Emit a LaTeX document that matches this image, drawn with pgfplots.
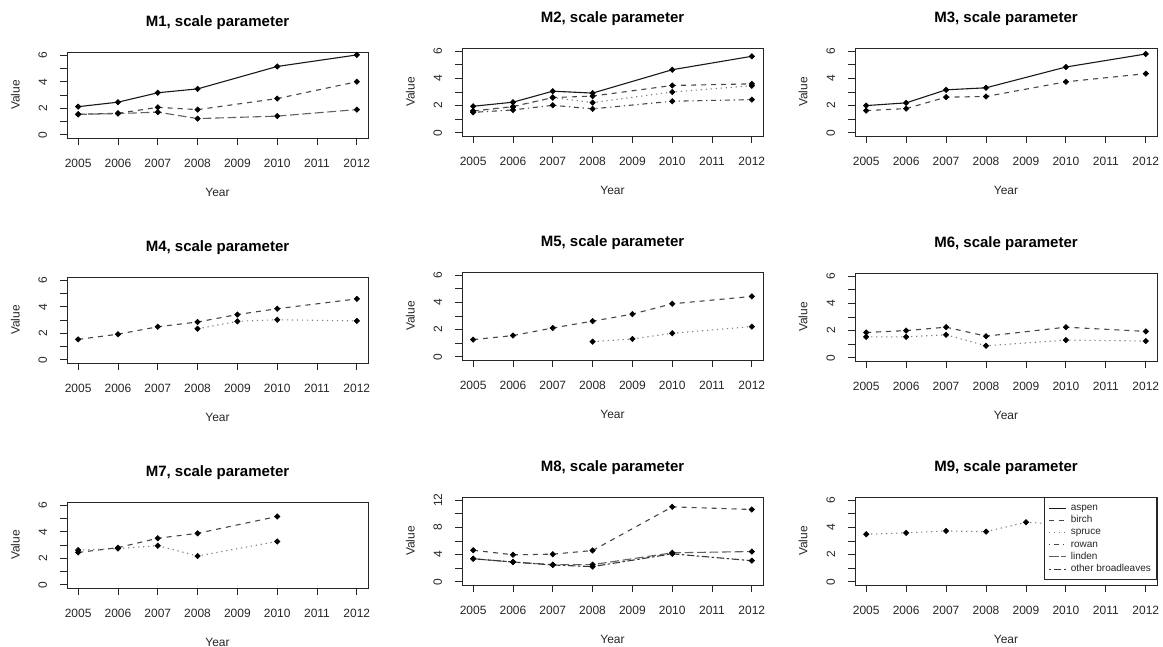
\documentclass[border=0pt]{standalone}
\usepackage{fontspec}
\setmainfont{Liberation Sans}
\usepackage{pgfplots}
\pgfplotsset{compat=1.18}
\tikzset{
 aspen/.style={black!90, solid},
 birch/.style={black!72, dash pattern=on 5pt off 5pt},
 spruce/.style={black!50, dash pattern=on 1.25pt off 3.75pt},
 rowan/.style={black!72, dash pattern=on 1.25pt off 3.75pt on 5pt off 3.75pt},
 linden/.style={black!62, dash pattern=on 8.75pt off 3.75pt},
 other/.style={black!78, dash pattern=on 2.5pt off 2.5pt on 7.5pt off 2.5pt},
}
\pgfplotsset{
 panel/.style={
  scale only axis, width=301pt, height=87pt,
  xmin=2004.72, xmax=2012.28, ymin=-0.24, ymax=6.24,
  xtick={2005,...,2012}, xticklabels={2005,2006,2007,2008,2009,2010,2011,2012},
  ytick={0,...,6}, yticklabels={0,,2,,4,,6},
  tick align=outside, major tick length=7pt, xtick pos=bottom, ytick pos=left,
  axis line style={black!85, line width=0.9pt},
  tick style={black!85, line width=0.9pt},
  ticklabel style={font=\fontsize{12}{14}\selectfont, inner sep=0pt, text=black!85},
  xticklabel style={anchor=north},
  yticklabel style={rotate=90, anchor=south},
  xticklabel shift=13.5pt, yticklabel shift=12.7pt,
  xlabel={Year}, ylabel={Value},
  xlabel style={at={(axis description cs:0.5,0)}, anchor=center, yshift=-54pt, font=\fontsize{12}{14}\selectfont, text=black!85},
  ylabel style={at={(axis description cs:-0.172,0.5)}, anchor=center, font=\fontsize{12}{14}\selectfont, text=black!85},
  title style={at={(axis description cs:0.5,1)}, anchor=center, yshift=23pt, font=\bfseries\fontsize{15}{18}\selectfont},
  every axis plot/.append style={line width=1.1pt, mark=square*, mark size=1.9pt, mark options={solid, rotate=45, fill=black, draw=black, line width=0.6pt}},
 },
}
\begin{document}
\begin{tikzpicture}
\useasboundingbox (0,0) rectangle (1163pt,-646pt);
% M1
\begin{axis}[panel, at={(67pt,-138pt)}, anchor=south west, height=86pt, title={M1, scale parameter}]
\addplot[aspen] coordinates {(2005,2.12)(2006,2.46)(2007,3.17)(2008,3.46)(2010,5.15)(2012,6.02)};
\addplot[birch] coordinates {(2005,1.55)(2006,1.62)(2007,2.07)(2008,1.9)(2010,2.73)(2012,4.0)};
\addplot[linden] coordinates {(2005,1.54)(2006,1.6)(2007,1.71)(2008,1.22)(2010,1.41)(2012,1.9)};
\end{axis}
% M2
\begin{axis}[panel, at={(462pt,-136pt)}, anchor=south west, height=88pt, title={M2, scale parameter}]
\addplot[aspen] coordinates {(2005,1.95)(2006,2.25)(2007,3.06)(2008,2.92)(2010,4.64)(2012,5.63)};
\addplot[birch] coordinates {(2005,1.6)(2006,1.93)(2007,2.59)(2008,2.7)(2010,3.48)(2012,3.6)};
\addplot[spruce] coordinates {(2005,1.6)(2006,1.9)(2007,2.59)(2008,2.22)(2010,3.0)(2012,3.46)};
\addplot[rowan] coordinates {(2005,1.5)(2006,1.68)(2007,2.02)(2008,1.76)(2010,2.32)(2012,2.44)};
\end{axis}
% M3
\begin{axis}[panel, at={(855pt,-136pt)}, anchor=south west, width=302pt, height=88pt, title={M3, scale parameter}]
\addplot[aspen] coordinates {(2005,2.0)(2006,2.2)(2007,3.16)(2008,3.31)(2010,4.84)(2012,5.8)};
\addplot[birch] coordinates {(2005,1.63)(2006,1.78)(2007,2.62)(2008,2.67)(2010,3.75)(2012,4.35)};
\end{axis}
% M4
\begin{axis}[panel, at={(67pt,-363pt)}, anchor=south west, height=86pt, title={M4, scale parameter}]
\addplot[birch] coordinates {(2005,1.54)(2006,1.93)(2007,2.49)(2008,2.85)(2009,3.41)(2010,3.85)(2012,4.59)};
\addplot[spruce] coordinates {(2008,2.34)(2009,2.9)(2010,3.02)(2012,2.93)};
\end{axis}
% M5
\begin{axis}[panel, at={(462pt,-360pt)}, anchor=south west, height=88pt, title={M5, scale parameter}]
\addplot[birch] coordinates {(2005,1.26)(2006,1.56)(2007,2.12)(2008,2.62)(2009,3.14)(2010,3.9)(2012,4.44)};
\addplot[spruce] coordinates {(2008,1.11)(2009,1.31)(2010,1.73)(2012,2.22)};
\end{axis}
% M6
\begin{axis}[panel, at={(855pt,-361pt)}, anchor=south west, width=302pt, height=88pt, title={M6, scale parameter}]
\addplot[birch] coordinates {(2005,1.86)(2006,2.0)(2007,2.25)(2008,1.59)(2010,2.25)(2012,1.94)};
\addplot[spruce] coordinates {(2005,1.54)(2006,1.54)(2007,1.69)(2008,0.88)(2010,1.3)(2012,1.23)};
\end{axis}
% M7
\begin{axis}[panel, at={(67pt,-588pt)}, anchor=south west, height=86pt, title={M7, scale parameter}]
\addplot[birch] coordinates {(2005,2.44)(2006,2.8)(2007,3.51)(2008,3.88)(2010,5.15)};
\addplot[spruce] coordinates {(2005,2.62)(2006,2.73)(2007,2.95)(2008,2.17)(2010,3.27)};
\end{axis}
% M8
\begin{axis}[panel, at={(462pt,-585pt)}, anchor=south west, height=88pt, title={M8, scale parameter},
  ymin=-0.48, ymax=12.48, ytick={0,2,...,12}, yticklabels={0,,4,,8,,12}]
\addplot[birch] coordinates {(2005,4.64)(2006,3.97)(2007,4.06)(2008,4.6)(2010,11.03)(2012,10.64)};
\addplot[linden] coordinates {(2005,3.39)(2006,2.9)(2007,2.52)(2008,2.52)(2010,4.26)(2012,4.45)};
\addplot[other] coordinates {(2005,3.39)(2006,2.9)(2007,2.47)(2008,2.23)(2010,4.11)(2012,3.1)};
\end{axis}
% M9
\begin{axis}[panel, at={(855pt,-585pt)}, anchor=south west, width=302pt, height=88pt, title={M9, scale parameter},
  legend style={at={(1,1)}, anchor=north east, draw=black!85, line width=0.9pt, fill=white,
    font=\fontsize{10}{11}\selectfont, text=black!85, row sep=0pt, column sep=2.5pt, inner xsep=4pt, inner ysep=4.5pt,
    nodes={text height=6.8pt, text depth=2pt, inner sep=1.7pt}},
  legend cell align=left]
\addlegendimage{aspen, line width=1.1pt, no marks}
\addlegendentry{aspen}
\addlegendimage{birch, line width=1.1pt, no marks}
\addlegendentry{birch}
\addlegendimage{spruce, line width=1.1pt, no marks}
\addlegendentry{spruce}
\addlegendimage{rowan, line width=1.1pt, no marks}
\addlegendentry{rowan}
\addlegendimage{linden, line width=1.1pt, no marks}
\addlegendentry{linden}
\addlegendimage{other, line width=1.1pt, no marks}
\addlegendentry{other broadleaves}
\addplot[spruce, forget plot] coordinates {(2005,3.5)(2006,3.6)(2007,3.74)(2008,3.69)(2009,4.38)(2010,4.21)(2012,4.78)};
\end{axis}
\end{tikzpicture}
\end{document}
